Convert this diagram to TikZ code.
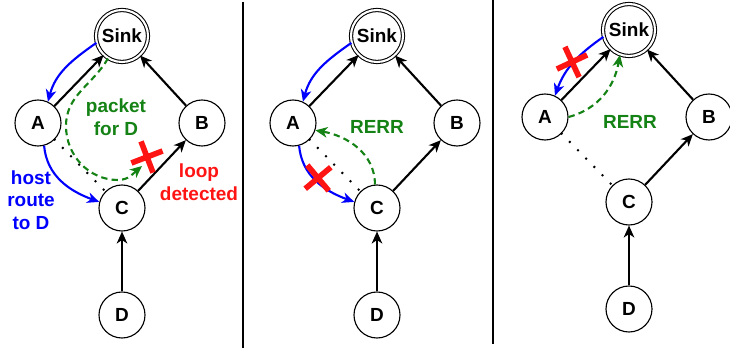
\documentclass[tikz,border=0pt]{standalone}
\usepackage{fontspec}
\setmainfont{Liberation Sans}
\usetikzlibrary{arrows.meta,shapes.misc}

\definecolor{rtblue}{RGB}{0,0,255}
\definecolor{pktgreen}{RGB}{20,130,20}
\definecolor{errred}{RGB}{255,20,20}

\begin{document}
\begin{tikzpicture}[
  font=\fontsize{13.5}{16}\selectfont\bfseries,
  mote/.style={circle, draw, line width=0.8pt, minimum size=1.15cm, inner sep=0pt},
  sink/.style={mote, double, line width=0.75pt, double distance=1.5pt, minimum size=1.3cm},
  link/.style={line width=1.5pt, -{Stealth[length=8.5pt,width=7.5pt,inset=2.5pt]}},
  hostrt/.style={link, rtblue},
  pkt/.style={link, pktgreen, dash pattern=on 4.5pt off 3pt},
  oldlink/.style={line width=2pt, line cap=round, dash pattern=on 0pt off 8.3pt},
  broken/.style={cross out, draw=errred, line width=4pt, minimum size=0.45cm, inner sep=0pt},
  divider/.style={line width=1.5pt}
]
\useasboundingbox (0,0) rectangle (18.25,8.7);

% left: C still routes through B, packet comes back
\begin{scope}
  \node[sink] (s1) at (3.05,7.8) {Sink};
  \node[mote] (a1) at (0.95,5.625) {A};
  \node[mote] (b1) at (5.05,5.625) {B};
  \node[mote] (c1) at (3.05,3.5) {C};
  \node[mote] (d1) at (3.05,0.825) {D};
  \draw[link] (a1) -- (s1);
  \draw[link] (b1) -- (s1);
  \draw[link] (c1) -- (b1);
  \draw[link] (d1) -- (c1);
  \draw[oldlink] (a1.-45) -- (c1.135);
  \draw[hostrt] (s1.195) to[out=215,in=75] (a1.65);
  \draw[hostrt] (a1.-75) to[out=-85,in=160] (c1.165);
  \coordinate (stop1) at (3.55,4.55);
  \draw[pkt] (s1.238) to[out=240,in=90] (1.65,5.55) to[out=-90,in=180] (2.95,4.2) to[out=0,in=220] (stop1);
  \node[broken, rotate=-24] (x1) at (3.675,4.775) {};
  \node[text=pktgreen, align=center] (pktlbl) at (2.9,5.775) {packet\\for D};
  \node[text=rtblue, align=center] (hostlbl) at (0.775,3.7) {host\\route\\to D};
  \node[text=errred, align=center] (looplbl) at (4.975,4.15) {loop\\detected};
\end{scope}

\draw[divider] (6.075,0) -- (6.075,8.65);

% middle: C drops the host route and tells A
\begin{scope}[shift={(6.375,0)}]
  \node[sink] (s2) at (3.05,7.8) {Sink};
  \node[mote] (a2) at (0.95,5.625) {A};
  \node[mote] (b2) at (5.05,5.625) {B};
  \node[mote] (c2) at (3.05,3.5) {C};
  \node[mote] (d2) at (3.05,0.825) {D};
  \draw[link] (a2) -- (s2);
  \draw[link] (b2) -- (s2);
  \draw[link] (c2) -- (b2);
  \draw[link] (d2) -- (c2);
  \draw[oldlink] (a2.-45) -- (c2.135);
  \draw[hostrt] (s2.195) to[out=215,in=75] (a2.65);
  \draw[hostrt] (a2.-75) to[out=-85,in=160] (c2.165);
  \node[broken, rotate=-5] (x2) at (1.575,4.25) {};
  \draw[pkt] (c2.95) to[out=90,in=-10] (a2.-18);
  \node[text=pktgreen] (rerr2) at (3.05,5.525) {RERR};
\end{scope}

\draw[divider] (12.325,0.1) -- (12.325,8.7);

% right: A drops its route and tells the sink
\begin{scope}[shift={(12.675,0.15)}]
  \node[sink] (s3) at (3.05,7.8) {Sink};
  \node[mote] (a3) at (0.95,5.625) {A};
  \node[mote] (b3) at (5.05,5.625) {B};
  \node[mote] (c3) at (3.05,3.5) {C};
  \node[mote] (d3) at (3.05,0.825) {D};
  \draw[link] (a3) -- (s3);
  \draw[link] (b3) -- (s3);
  \draw[link] (c3) -- (b3);
  \draw[link] (d3) -- (c3);
  \draw[oldlink] (a3.-45) -- (c3.135);
  \draw[hostrt] (s3.195) to[out=215,in=70] (a3.65);
  \node[broken, rotate=-20] (x3) at (1.625,7.0) {};
  \draw[pkt] (a3.0) to[out=15,in=-100] (s3.250);
  \node[text=pktgreen] (rerr3) at (3.075,5.5) {RERR};
\end{scope}
\end{tikzpicture}
\end{document}
